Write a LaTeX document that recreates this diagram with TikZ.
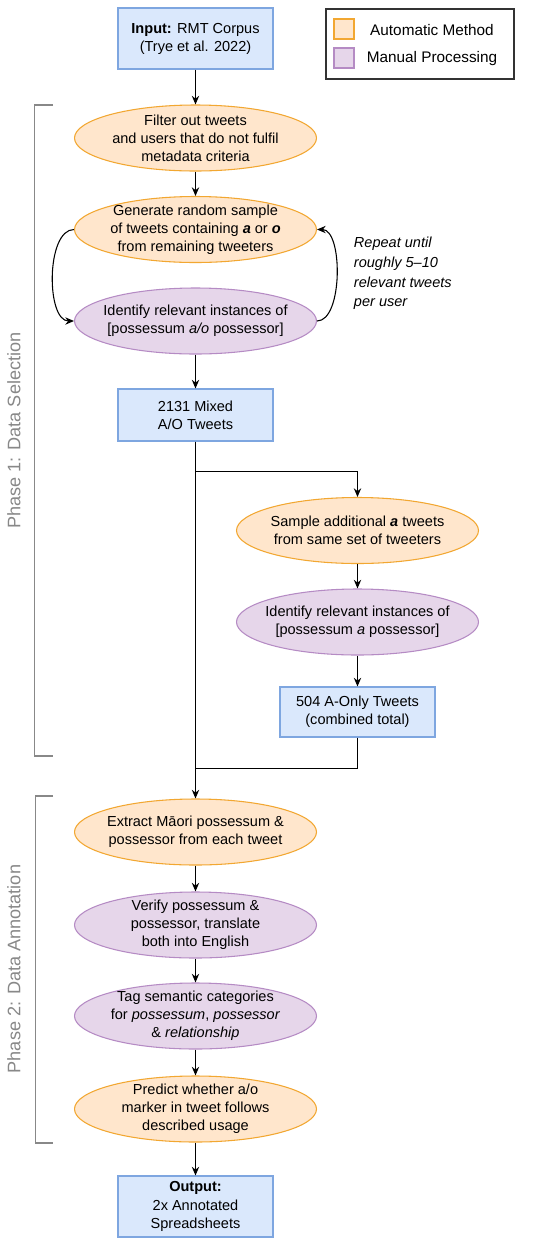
\documentclass[tikz,border=0pt]{standalone}
\usepackage{fontspec}
\setmainfont{Liberation Sans}
\usetikzlibrary{arrows.meta,shapes.geometric,positioning}
\definecolor{boxfill}{HTML}{DAE8FC}
\definecolor{boxline}{HTML}{7EA6E0}
\definecolor{autofill}{HTML}{FFE6CC}
\definecolor{autoline}{HTML}{F2A731}
\definecolor{manfill}{HTML}{E6D6EA}
\definecolor{manline}{HTML}{B58BC4}
\definecolor{phasegray}{HTML}{888888}

\begin{document}
\begin{tikzpicture}[x=0.75pt,y=-0.75pt,>={Stealth[length=6.5pt,width=5.5pt]},line width=0.8pt,
    every node/.style={font=\fontsize{10.9}{13.6}\selectfont},
    databox/.style={rectangle,draw=boxline,fill=boxfill,minimum width=116.25pt,align=center,inner sep=0pt},
    procbase/.style={ellipse,minimum width=181.5pt,minimum height=49.5pt,inner xsep=-6pt,inner ysep=-8pt,align=center},
    autoproc/.style={procbase,draw=autoline,fill=autofill},
    manproc/.style={procbase,draw=manline,fill=manfill},
    phaselabel/.style={rotate=90,text=phasegray,font=\fontsize{13.6}{16}\selectfont}]
    \useasboundingbox (0,0) rectangle (550,1247);

    % legend
    \node[draw=black!80,line width=1pt,minimum width=141pt,minimum height=52.5pt,inner sep=0pt] (legend) at (420,44) {};
    \node[draw=autoline,fill=autofill,minimum size=15pt,inner sep=0pt] (keyauto) at (344,29) {};
    \node[draw=manline,fill=manfill,minimum size=15pt,inner sep=0pt] (keymanual) at (344,58) {};
    \node[font=\fontsize{11.5}{14}\selectfont] (keyautotext) at (432,30) {Automatic Method};
    \node[font=\fontsize{11.5}{14}\selectfont] (keymantext) at (432,59) {Manual Processing};

    % phase 1: data selection
    \node[databox,minimum height=45.75pt] (input) at (195.5,38.5) {\textbf{Input:} RMT Corpus\\(Trye et al. 2022)};
    \node[autoproc] (filter) at (195.5,138) {Filter out tweets\\and users that do not fulfil\\metadata criteria};
    \node[autoproc] (generate) at (195.5,229.5) {Generate random sample\\of tweets containing \textbf{\textit{a}} or \textbf{\textit{o}}\\from remaining tweeters};
    \node[manproc] (identAO) at (195.5,321) {Identify relevant instances of\\{[}possessum \textit{a/o} possessor{]}};
    \node[anchor=west,align=left,font=\fontsize{10.9}{14.8}\selectfont\itshape] (repeat) at (349,273.5) {Repeat until\\roughly 5--10\\relevant tweets\\per user};
    \node[databox,minimum height=39pt] (mixed) at (195.5,415) {2131 Mixed\\A/O Tweets};
    \node[autoproc] (sampleA) at (357.5,530.5) {Sample additional \textbf{\textit{a}} tweets\\from same set of tweeters};
    \node[manproc] (identA) at (357.5,622) {Identify relevant instances of\\{[}possessum \textit{a} possessor{]}};
    \node[databox,minimum height=37.5pt] (aonly) at (357.5,712) {504 A-Only Tweets\\(combined total)};

    % phase 2: data annotation
    \node[autoproc] (extract) at (195.5,832) {Extract Māori possessum \&\\possessor from each tweet};
    \node[manproc] (verify) at (195.5,925) {Verify possessum \&\\possessor, translate\\both into English};
    \node[manproc] (tagcat) at (195.5,1016) {Tag semantic categories\\for \textit{possessum}, \textit{possessor}\\\& \textit{relationship}};
    \node[autoproc] (predict) at (195.5,1109) {Predict whether a/o\\marker in tweet follows\\described usage};
    \node[databox,minimum height=45.75pt] (output) at (195.5,1206.5) {\textbf{Output:}\\2x Annotated\\Spreadsheets};

    % connectors
    \draw[->] (input) -- (filter);
    \draw[->] (filter) -- (generate);
    \draw[->] (generate.west) .. controls +(-28,0) and +(-28,0) .. (identAO.west);
    \draw[->] (identAO.east) .. controls +(26,0) and +(26,0) .. (generate.east);
    \draw[->] (identAO) -- (mixed);
    \draw[->] (mixed.south) -- ++(0,30) -| (sampleA.north);
    \draw[->] (sampleA) -- (identA);
    \draw[->] (identA) -- (aonly);
    \draw (aonly.south) -- ++(0,31) -| (extract.north);
    \draw[->] (mixed.south) -- (extract.north);
    \draw[->] (extract) -- (verify);
    \draw[->] (verify) -- (tagcat);
    \draw[->] (tagcat) -- (predict);
    \draw[->] (predict) -- (output);

    % phase brackets
    \draw[phasegray] (53,105) -- (34.5,105) -- (34.5,756) -- (53,756);
    \draw[phasegray] (53,796) -- (35.5,796) -- (35.5,1143) -- (53,1143);
    \node[phaselabel] (phaseone) at (14,430.5) {Phase 1: Data Selection};
    \node[phaselabel] (phasetwo) at (14,969) {Phase 2: Data Annotation};
\end{tikzpicture}
\end{document}
